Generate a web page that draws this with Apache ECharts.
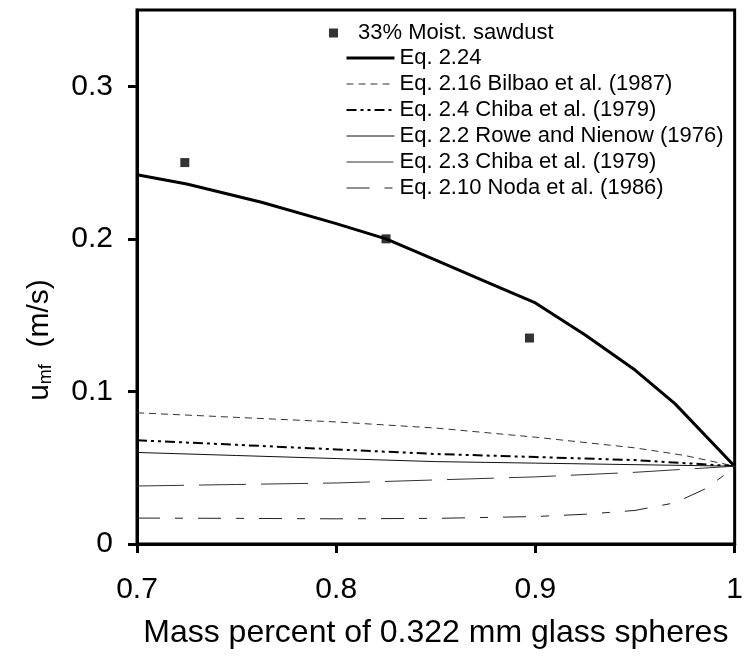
<!DOCTYPE html>
<html>
<head>
<meta charset="utf-8">
<script src="https://cdn.jsdelivr.net/npm/echarts@6/dist/echarts.min.js"></script>
<style>
  html, body { margin: 0; padding: 0; background: #fff; }
  #main { width: 746px; height: 657px; }
</style>
</head>
<body>
<div id="main"></div>
<script>
// measured points
var sawdustX = [0.724, 0.825, 0.897];
var sawdustY = [0.250, 0.200, 0.135];

// Eq. 2.24
var eq224X = [0.7, 0.725, 0.7625, 0.8, 0.825, 0.85, 0.875, 0.9, 0.925, 0.95, 0.97, 1.0];
var eq224Y = [0.242, 0.236, 0.224, 0.210, 0.200, 0.186, 0.172, 0.158, 0.137, 0.114, 0.092, 0.051];

// correlations, common x
var corrX = [0.7, 0.75, 0.8, 0.85, 0.9, 0.95, 0.975, 1.0];
var bilbaoY = [0.086, 0.083, 0.080, 0.076, 0.070, 0.063, 0.058, 0.051];
var chiba24Y = [0.068, 0.065, 0.062, 0.059, 0.057, 0.055, 0.053, 0.051];
var roweY = [0.060, 0.058, 0.056, 0.054, 0.053, 0.052, 0.0515, 0.051];
var chiba23Y = [0.038, 0.039, 0.040, 0.042, 0.044, 0.047, 0.049, 0.051];

// Noda
var nodaX = [0.7, 0.75, 0.8, 0.85, 0.9, 0.925, 0.95, 0.97, 0.985, 1.0];
var nodaY = [0.017, 0.0168, 0.0165, 0.0168, 0.018, 0.0195, 0.022, 0.027, 0.036, 0.050];

var xTicks = [0.7, 0.8, 0.9, 1.0];
var yTicks = [0, 0.1, 0.2, 0.3];

function pairs(xs, ys) {
    return xs.map(function (x, i) { return [x, ys[i]]; });
}

var font = 'Liberation Sans, Arial, sans-serif';

function lineSeries(name, xs, ys, width, color, dash) {
    return {
        name: name,
        type: 'line',
        symbol: 'none',
        data: pairs(xs, ys),
        lineStyle: { width: width, color: color, type: dash },
        itemStyle: { color: color },
        z: 3
    };
}

// legend entry for a line: no marker, only the line
function lineEntry(name, width) {
    return { name: name, lineStyle: { width: width }, itemStyle: { opacity: 0 } };
}

var chart = echarts.init(document.getElementById('main'));

var option = {
    animation: false,
    backgroundColor: '#fff',
    grid: {
        left: 137, right: 6, top: 10, bottom: 113,
        show: true, borderColor: '#000', borderWidth: 3
    },
    legend: [
        {
            data: [{ name: '33% Moist. sawdust' }],
            left: 324, top: 17,
            itemWidth: 9, itemHeight: 9,
            textStyle: { fontFamily: font, fontSize: 22, color: '#000', lineHeight: 22, padding: [0, 0, 0, 15] },
            selectedMode: false
        },
        {
            data: [
                lineEntry('Eq. 2.24', 3),
                lineEntry('Eq. 2.16 Bilbao et al. (1987)', 1),
                lineEntry('Eq. 2.4 Chiba et al. (1979)', 2),
                lineEntry('Eq. 2.2 Rowe and Nienow (1976)', 1),
                lineEntry('Eq. 2.3 Chiba et al. (1979)', 1),
                lineEntry('Eq. 2.10 Noda et al. (1986)', 1)
            ],
            orient: 'vertical',
            left: 340, top: 42,
            itemWidth: 48, itemHeight: 14, itemGap: 4,
            textStyle: { fontFamily: font, fontSize: 22, color: '#000', lineHeight: 22 },
            selectedMode: false
        }
    ],
    xAxis: {
        type: 'value',
        min: 0.7, max: 1.0,
        name: 'Mass percent of 0.322 mm glass spheres',
        nameLocation: 'middle',
        nameGap: 73,
        nameTextStyle: { fontFamily: font, fontSize: 32, color: '#000' },
        axisLine: { onZero: false, lineStyle: { color: '#000', width: 3 } },
        axisTick: { customValues: xTicks, length: 9, lineStyle: { color: '#000', width: 3 } },
        axisLabel: {
            customValues: xTicks,
            margin: 31,
            fontFamily: font, fontSize: 30, color: '#000',
            formatter: function (v) { return String(Math.round(v * 10) / 10); }
        },
        splitLine: { show: false }
    },
    yAxis: {
        type: 'value',
        min: 0, max: 0.35,
        name: '{u|u}{s|mf}{u|  (m/s)}',
        nameLocation: 'middle',
        nameGap: 82,
        nameTextStyle: {
            padding: [0, 126, 0, 0],
            rich: {
                u: { fontFamily: font, fontSize: 30, color: '#000' },
                s: { fontFamily: font, fontSize: 18, color: '#000', verticalAlign: 'bottom', padding: [12, 0, 0, 0] }
            }
        },
        axisLine: { lineStyle: { color: '#000', width: 3 } },
        axisTick: { customValues: yTicks, length: 9, lineStyle: { color: '#000', width: 3 } },
        axisLabel: {
            customValues: yTicks,
            margin: 24,
            fontFamily: font, fontSize: 30, color: '#000',
            formatter: function (v) { return String(Math.round(v * 10) / 10); }
        },
        splitLine: { show: false }
    },
    series: [
        {
            name: '33% Moist. sawdust',
            type: 'scatter',
            symbol: 'rect',
            symbolSize: 9,
            data: pairs(sawdustX, sawdustY),
            itemStyle: { color: '#000' },
            z: 5
        },
        lineSeries('Eq. 2.24', eq224X, eq224Y, 3, '#000', 'solid'),
        lineSeries('Eq. 2.16 Bilbao et al. (1987)', corrX, bilbaoY, 1, '#333', [7, 5]),
        lineSeries('Eq. 2.4 Chiba et al. (1979)', corrX, chiba24Y, 2, '#000', [10, 4, 3, 4, 3, 4]),
        lineSeries('Eq. 2.2 Rowe and Nienow (1976)', corrX, roweY, 1, '#111', 'solid'),
        lineSeries('Eq. 2.3 Chiba et al. (1979)', corrX, chiba23Y, 1, '#333', [47, 15]),
        lineSeries('Eq. 2.10 Noda et al. (1986)', nodaX, nodaY, 1, '#222', [23, 15, 8, 15])
    ]
};

chart.setOption(option);
</script>
</body>
</html>
